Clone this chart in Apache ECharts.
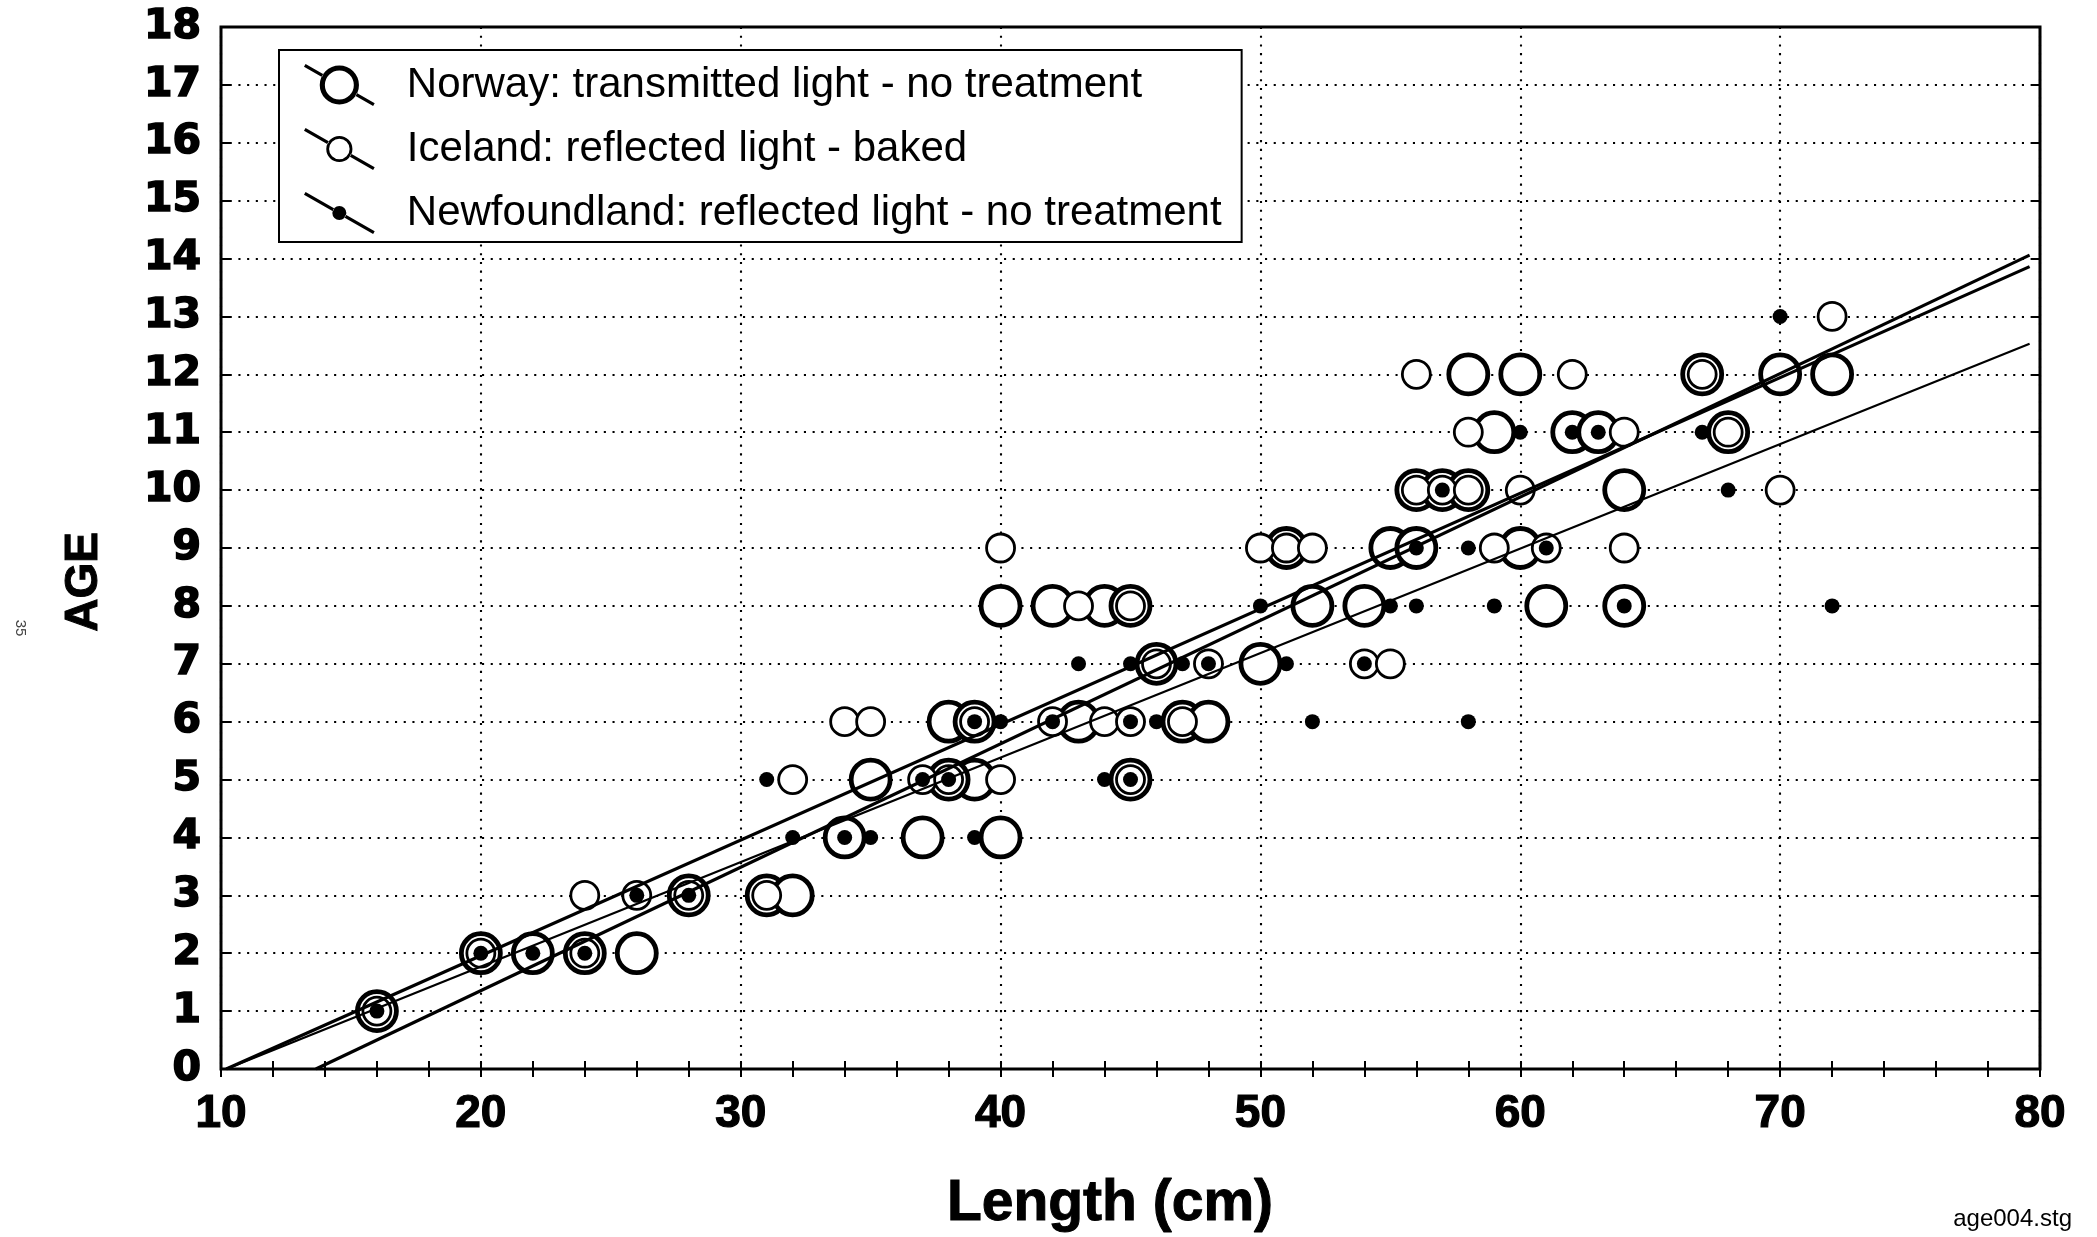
<!DOCTYPE html>
<html>
<head>
<meta charset="utf-8">
<style>
html,body{margin:0;padding:0;background:#fff;}
#chart{width:2097px;height:1237px;}
</style>
<script src="https://cdn.jsdelivr.net/npm/echarts@6/dist/echarts.min.js"></script>
</head>
<body>
<div id="chart"></div>
<script>
// ---- data (length cm, age) ----
const seriesNames = [
  'Norway: transmitted light - no treatment',
  'Iceland: reflected light - baked',
  'Newfoundland: reflected light - no treatment'
];
const norway = [[16,1],[20,2],[22,2],[24,2],[26,2],[28,3],[31,3],[32,3],[34,4],[37,4],[40,4],
  [35,5],[39,5],[38,5],[45,5],[38,6],[39,6],[43,6],[47,6],[48,6],[46,7],[50,7],
  [40,8],[42,8],[44,8],[45,8],[52,8],[54,8],[61,8],[64,8],[51,9],[55,9],[56,9],[60,9],
  [56,10],[57,10],[58,10],[64,10],[59,11],[62,11],[63,11],[68,11],[58,12],[60,12],[67,12],[70,12],[72,12]];
const iceland = [[16,1],[20,2],[24,2],[24,3],[26,3],[28,3],[31,3],[32,5],[37,5],[38,5],[40,5],[45,5],
  [34,6],[35,6],[39,6],[42,6],[44,6],[45,6],[47,6],[46,7],[48,7],[54,7],[55,7],[43,8],[45,8],
  [40,9],[50,9],[51,9],[52,9],[59,9],[61,9],[64,9],[56,10],[57,10],[58,10],[60,10],[70,10],
  [58,11],[64,11],[68,11],[56,12],[62,12],[67,12],[72,13]];
const newfoundland = [[16,1],[20,2],[22,2],[24,2],[26,3],[28,3],[32,4],[34,4],[35,4],[39,4],
  [31,5],[37,5],[38,5],[44,5],[45,5],[39,6],[40,6],[42,6],[45,6],[46,6],[52,6],[58,6],
  [43,7],[45,7],[47,7],[48,7],[51,7],[54,7],[50,8],[55,8],[56,8],[59,8],[64,8],[72,8],
  [56,9],[58,9],[61,9],[57,10],[68,10],[60,11],[62,11],[63,11],[67,11],[70,13]];
// regression lines (endpoints)
const norwayFit = [[13.65,0],[79.6,14.06]];
const icelandFit = [[10.2,0],[79.6,13.86]];
const newfoundlandFit = [[10.2,0],[79.6,12.53]];
const xRange = [10, 80];
const yRange = [0, 18];

// ---- legend icon paths (decoration) ----
function f(v){return Math.round(v*100)/100;}
function legendIcon(rOut, rIn){
  const W=74, H=42, cx=W/2, cy=H/2;
  const L=Math.hypot(W,H), ux=W/L, uy=H/L, t=1.7, nx=-uy*t, ny=ux*t;
  const stub=(x1,y1,x2,y2)=>`M${f(x1+nx)} ${f(y1+ny)}L${f(x2+nx)} ${f(y2+ny)}L${f(x2-nx)} ${f(y2-ny)}L${f(x1-nx)} ${f(y1-ny)}Z`;
  const circ=(r,s)=>`M${f(cx+r)} ${cy}A${r} ${r} 0 1 ${s} ${f(cx-r)} ${cy}A${r} ${r} 0 1 ${s} ${f(cx+r)} ${cy}Z`;
  let p = stub(0,0,cx-ux*(rOut-0.5),cy-uy*(rOut-0.5)) + stub(cx+ux*(rOut-0.5),cy+uy*(rOut-0.5),W,H) + circ(rOut,1);
  if(rIn>0) p += circ(rIn,0);
  return 'path://'+p;
}

const chart = echarts.init(document.getElementById('chart'), null, {renderer:'canvas'});
const gridLine = {show:true, lineStyle:{color:'#000', width:2.1, type:[2.1,6.6]}};
const option = {
  animation:false,
  backgroundColor:'#fff',
  grid:{left:221, right:57, top:27, bottom:168, show:true, borderColor:'#000', borderWidth:3, backgroundColor:'transparent'},
  legend:{
    orient:'vertical', left:279, top:50,
    padding:[14,20,8,25], itemGap:22, itemWidth:75, itemHeight:42,
    borderColor:'#000', borderWidth:2, backgroundColor:'#fff', borderRadius:0,
    selectedMode:false,
    itemStyle:{color:'#000', borderWidth:0},
    textStyle:{fontFamily:'Liberation Sans', fontSize:42, color:'#000', padding:[0,0,0,25]},
    data:[
      {name:seriesNames[0], icon:legendIcon(21,15.5), itemStyle:{color:'#000', borderWidth:0}},
      {name:seriesNames[1], icon:legendIcon(14,11), itemStyle:{color:'#000', borderWidth:0}},
      {name:seriesNames[2], icon:legendIcon(7.5,0), itemStyle:{color:'#000', borderWidth:0}}
    ]
  },
  xAxis:[{
    type:'value', min:xRange[0], max:xRange[1], interval:10, position:'bottom',
    axisLine:{show:false},
    axisTick:{show:true, inside:true, length:8, lineStyle:{color:'#000', width:2}},
    minorTick:{show:true, splitNumber:5, length:8, lineStyle:{color:'#000', width:2}},
    axisLabel:{color:'#000', fontWeight:'bold', fontFamily:'Liberation Sans', fontSize:46, margin:22,
      textBorderColor:'#000', textBorderWidth:1.2},
    splitLine:gridLine
  },{
    type:'value', min:xRange[0], max:xRange[1], interval:10, position:'top',
    axisLine:{show:false},
    axisTick:{show:true, inside:true, length:8, lineStyle:{color:'#000', width:2}},
    minorTick:{show:true, splitNumber:5, length:8, lineStyle:{color:'#000', width:2}},
    axisLabel:{show:false}, splitLine:{show:false}
  }],
  yAxis:[{
    type:'value', min:yRange[0], max:yRange[1], interval:1, position:'left',
    axisLine:{show:false},
    axisTick:{show:true, inside:true, length:10, lineStyle:{color:'#000', width:2}},
    axisLabel:{color:'#000', fontWeight:'bold', fontFamily:'DejaVu Sans', fontSize:41, margin:20,
      textBorderColor:'#000', textBorderWidth:1.6},
    splitLine:gridLine
  },{
    type:'value', min:yRange[0], max:yRange[1], interval:1, position:'right',
    axisLine:{show:false},
    axisTick:{show:true, inside:true, length:9, lineStyle:{color:'#000', width:2}},
    axisLabel:{show:false}, splitLine:{show:false}
  }],
  graphic:[
    {type:'text', x:1110, y:1204, style:{text:'Length (cm)', fontFamily:'Liberation Sans', fontWeight:'bold', fontSize:57, fill:'#000', stroke:'#000', lineWidth:1, textAlign:'center', textVerticalAlign:'middle'}},
    {type:'text', x:84, y:582, rotation:Math.PI/2, style:{text:'AGE', fontFamily:'Liberation Sans', fontWeight:'bold', fontSize:46, fill:'#000', stroke:'#000', lineWidth:1, textAlign:'center', textVerticalAlign:'middle'}},
    {type:'text', x:20, y:628, rotation:-Math.PI/2, style:{text:'35', fontFamily:'Liberation Sans', fontSize:15, fill:'#444', textAlign:'center', textVerticalAlign:'middle'}},
    {type:'text', x:2072, y:1219, style:{text:'age004.stg', fontFamily:'Liberation Sans', fontSize:24, fill:'#000', textAlign:'right', textVerticalAlign:'middle'}}
  ],
  series:[
    {name:seriesNames[0], type:'scatter', data:norway, symbol:'circle', symbolSize:39, z:2,
      itemStyle:{color:'#fff', borderColor:'#000', borderWidth:4.8, opacity:1}, emphasis:{disabled:true}},
    {name:seriesNames[1], type:'scatter', data:iceland, symbol:'circle', symbolSize:28, z:3,
      itemStyle:{color:'#fff', borderColor:'#000', borderWidth:2.8, opacity:1}, emphasis:{disabled:true}},
    {name:seriesNames[2], type:'scatter', data:newfoundland, symbol:'circle', symbolSize:15, z:4,
      itemStyle:{color:'#000', borderWidth:0, opacity:1}, emphasis:{disabled:true}},
    {name:'Norway fit', type:'line', data:norwayFit, showSymbol:false, symbol:'none', z:5, silent:true,
      lineStyle:{color:'#000', width:3.2}},
    {name:'Iceland fit', type:'line', data:icelandFit, showSymbol:false, symbol:'none', z:5, silent:true,
      lineStyle:{color:'#000', width:3.2}},
    {name:'Newfoundland fit', type:'line', data:newfoundlandFit, showSymbol:false, symbol:'none', z:5, silent:true,
      lineStyle:{color:'#000', width:2.2}}
  ]
};
chart.setOption(option);
</script>
</body>
</html>
